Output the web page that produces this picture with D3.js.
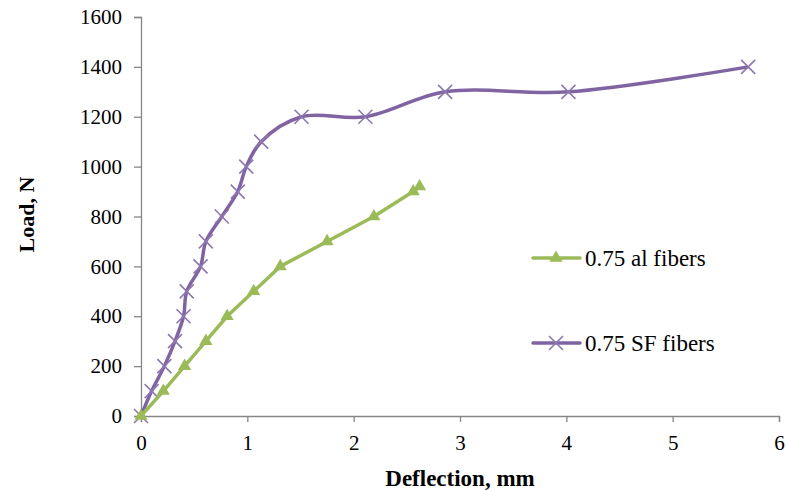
<!DOCTYPE html>
<html>
<head>
<meta charset="utf-8">
<script src="https://cdn.jsdelivr.net/npm/d3@7"></script>
<style>
  body { margin: 0; background: #fff; }
  text { font-family: "Liberation Serif", "Times New Roman", serif; fill: #000; }
</style>
</head>
<body>
<div id="chart"></div>
<script>
// Chart values
const xTicks = [0, 1, 2, 3, 4, 5, 6];
const yTicks = [0, 200, 400, 600, 800, 1000, 1200, 1400, 1600];

const alDeflection = [0, 0.21, 0.41, 0.61, 0.81, 1.06, 1.31, 1.75, 2.19, 2.56, 2.62];
const alLoad       = [0, 100, 200, 300, 400, 500, 600, 700, 800, 900, 920];

const sfDeflection = [0, 0.1, 0.22, 0.32, 0.4, 0.43, 0.56, 0.61, 0.76, 0.91, 0.99, 1.13, 1.51, 2.11, 2.86, 4.02, 5.71];
const sfLoad       = [0, 100, 200, 300, 400, 500, 600, 700, 800, 900, 1000, 1100, 1200, 1200, 1300, 1300, 1400];

const seriesNames = ["0.75 al fibers", "0.75 SF fibers"];

const width = 786, height = 490;
const margin = {top: 17, right: 7, bottom: 74, left: 141};

const svg = d3.select("#chart")
    .append("svg")
    .attr("width", width)
    .attr("height", height);

let x = d3.scaleLinear()
    .domain([0, 6])
    .range([margin.left, width - margin.right]);

let y = d3.scaleLinear()
    .domain([0, 1600])
    .range([height - margin.bottom, margin.top]);

const axisColor = "#868686";

// Axes
let xAxis = svg.append("g")
    .attr("transform", `translate(0, ${y(0)})`)
    .call(d3.axisBottom(x).tickValues(xTicks).tickSize(6).tickPadding(13).tickFormat(d3.format("d")));

let yAxis = svg.append("g")
    .attr("transform", `translate(${x(0)}, 0)`)
    .call(d3.axisLeft(y).tickValues(yTicks).tickSize(7).tickPadding(12).tickFormat(d3.format("d")));

[xAxis, yAxis].forEach(function(a) {
    a.attr("font-family", null);
    a.select(".domain").attr("stroke", axisColor).attr("stroke-width", 1.3);
    a.selectAll(".tick line").attr("stroke", axisColor).attr("stroke-width", 1.3);
    a.selectAll(".tick text")
        .style("font-family", "'Liberation Serif', serif")
        .style("font-size", "21px")
        .attr("fill", "#000");
});

// Axis titles
svg.append("text")
    .attr("x", (x(0) + x(6)) / 2)
    .attr("y", 486)
    .style("text-anchor", "middle")
    .style("font-weight", "bold")
    .style("font-size", "23px")
    .text("Deflection, mm");

svg.append("text")
    .attr("transform", `translate(34, ${(y(0) + y(1600)) / 2 - 2}) rotate(-90)`)
    .style("text-anchor", "middle")
    .style("font-weight", "bold")
    .style("font-size", "22px")
    .text("Load, N");

const green = "#9bbb59", purple = "#8064a2";

const alData = alDeflection.map((d, i) => ({x: d, y: alLoad[i]}));
const sfData = sfDeflection.map((d, i) => ({x: d, y: sfLoad[i]}));

// SF series (smoothed line, x markers)
svg.append("path")
    .datum(sfData)
    .attr("fill", "none")
    .attr("stroke", purple)
    .attr("stroke-width", 3.5)
    .attr("stroke-linejoin", "round")
    .attr("d", d3.line().x(d => x(d.x)).y(d => y(d.y)).curve(d3.curveCatmullRom.alpha(0.5)));

const crossPath = "M-7,-7L7,7M-7,7L7,-7";
svg.append("g").selectAll("path")
    .data(sfData)
    .enter()
    .append("path")
    .attr("transform", d => `translate(${x(d.x)}, ${y(d.y)})`)
    .attr("d", crossPath)
    .attr("stroke", "#8e78b0")
    .attr("stroke-width", 1.6)
    .attr("fill", "none");

// al series (straight line, triangle markers)
svg.append("path")
    .datum(alData)
    .attr("fill", "none")
    .attr("stroke", green)
    .attr("stroke-width", 3.5)
    .attr("stroke-linejoin", "round")
    .attr("d", d3.line().x(d => x(d.x)).y(d => y(d.y)));

const triangle = d3.symbol().type(d3.symbolTriangle).size(75);
svg.append("g").selectAll("path")
    .data(alData)
    .enter()
    .append("path")
    .attr("transform", d => `translate(${x(d.x)}, ${y(d.y)})`)
    .attr("d", triangle)
    .attr("fill", green);

// Legend
const legendRows = [
    {name: seriesNames[0], color: green, y: 258, marker: "tri"},
    {name: seriesNames[1], color: purple, y: 343, marker: "cross"}
];
let legend = svg.append("g");
legendRows.forEach(function(r) {
    legend.append("line")
        .attr("x1", 533).attr("x2", 580)
        .attr("y1", r.y).attr("y2", r.y)
        .attr("stroke", r.color)
        .attr("stroke-width", 3.5)
        .attr("stroke-linecap", "round");
    if (r.marker === "tri") {
        legend.append("path")
            .attr("transform", `translate(556, ${r.y})`)
            .attr("d", triangle)
            .attr("fill", r.color);
    } else {
        legend.append("path")
            .attr("transform", `translate(556, ${r.y})`)
            .attr("d", crossPath)
            .attr("stroke", "#8e78b0")
            .attr("stroke-width", 1.6);
    }
    legend.append("text")
        .attr("x", 585)
        .attr("y", r.y)
        .attr("dy", "0.35em")
        .style("font-size", "23px")
        .text(r.name);
});
</script>
</body>
</html>
